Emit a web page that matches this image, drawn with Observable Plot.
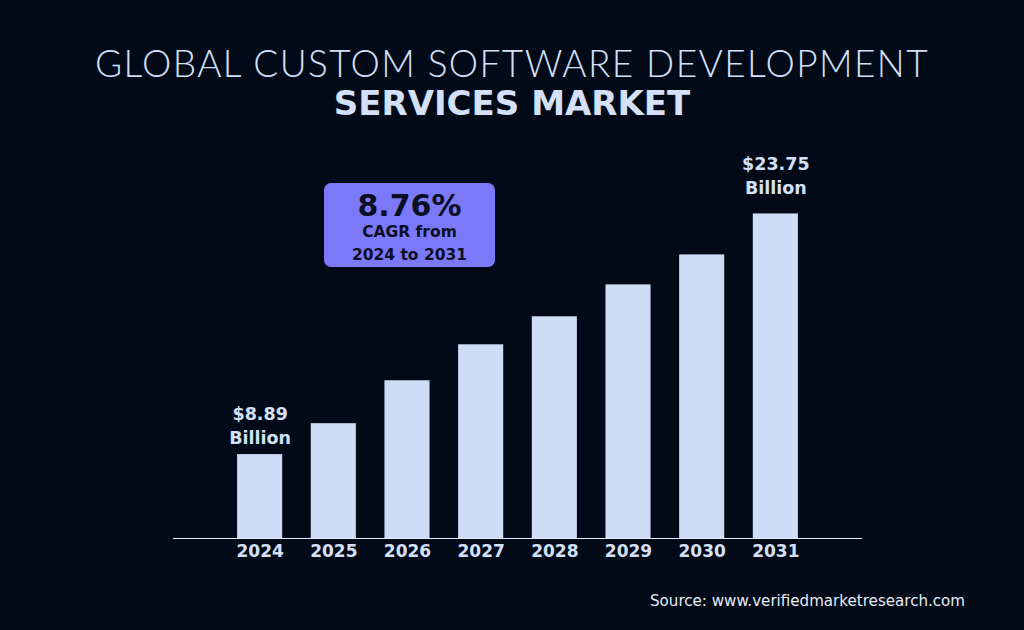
<!DOCTYPE html>
<html>
<head>
<meta charset="utf-8">
<script src="https://cdn.jsdelivr.net/npm/d3@7"></script>
<script src="https://cdn.jsdelivr.net/npm/@observablehq/plot@0.6"></script>
<style>
  html, body { margin: 0; padding: 0; background: #020a17; }
  body { width: 1024px; height: 630px; position: relative; overflow: hidden; font-family: "DejaVu Sans", "Noto Sans", sans-serif; }
  #t1 { position: absolute; left: 0; width: 1024px; top: 40px; text-align: center; color: #d4e0f7; font-family: Lato, sans-serif; font-weight: 300; font-size: 37px; letter-spacing: 1.4px; }
  #t2 { position: absolute; left: 0; width: 1024px; top: 83px; text-align: center; color: #d4e0f7; font-family: "DejaVu Sans", sans-serif; font-weight: bold; font-size: 34px; }
  #chart { position: absolute; left: 0; top: 0; }
  #cagr { position: absolute; left: 324px; top: 183px; width: 171px; height: 84px; background: #7b79f7; border-radius: 7px; color: #0b0f26; text-align: center; font-family: "DejaVu Sans", sans-serif; font-weight: bold; }
  #cagr .big { font-size: 30px; line-height: 32px; margin-top: 7px; }
  #cagr .small { font-size: 15.5px; line-height: 23px; margin-top: -1px; }
  #src { position: absolute; left: 650px; top: 592px; color: #e6ecf7; font-family: "DejaVu Sans", sans-serif; font-size: 15.1px; }
</style>
</head>
<body>
<div id="chart"></div>
<div id="t1">GLOBAL CUSTOM SOFTWARE DEVELOPMENT</div>
<div id="t2">SERVICES MARKET</div>
<div id="cagr"><div class="big">8.76%</div><div class="small">CAGR from<br>2024 to 2031</div></div>
<div id="src">Source: www.verifiedmarketresearch.com</div>
<script>
const years = ["2024", "2025", "2026", "2027", "2028", "2029", "2030", "2031"];
// Values in USD billion (endpoints labelled; intermediate bars)
const values = [8.89, 10.80, 13.45, 15.67, 17.40, 19.37, 21.22, 23.75];
const labels = ["$8.89\nBillion", "", "", "", "", "", "", "$23.75\nBillion"];
const yBase = 3.71;

const data = years.map((year, i) => ({year, value: values[i], label: labels[i]}));

const plot = Plot.plot({
  width: 1024,
  height: 630,
  marginLeft: 173,
  marginRight: 162,
  marginTop: 177,
  marginBottom: 92,
  style: {background: "transparent", fontFamily: "DejaVu Sans, sans-serif"},
  x: {domain: years, paddingInner: 0.388, paddingOuter: 0.87, round: false, axis: null},
  y: {domain: [yBase, 26], axis: null},
  marks: [
    Plot.barY(data, {x: "year", y1: () => yBase, y2: "value", fill: "#cfdcf5"}),
    Plot.ruleY([yBase], {stroke: "#e6ecf7", strokeWidth: 1.2}),
    Plot.text(data.slice(0, 1), {x: "year", y: "value", text: "label", lineAnchor: "bottom", dy: -11, fill: "#d4e0f7", fontSize: 17.5, fontWeight: "bold", lineHeight: 1.37}),
    Plot.text(data.slice(-1), {x: "year", y: "value", text: "label", lineAnchor: "bottom", dy: -20, fill: "#d4e0f7", fontSize: 17.5, fontWeight: "bold", lineHeight: 1.37}),
    Plot.axisX({tickSize: 0, tickPadding: 6, fontSize: 17, fontWeight: "bold", color: "#d4e0f7", label: null})
  ]
});
document.getElementById("chart").appendChild(plot);
</script>
</body>
</html>
